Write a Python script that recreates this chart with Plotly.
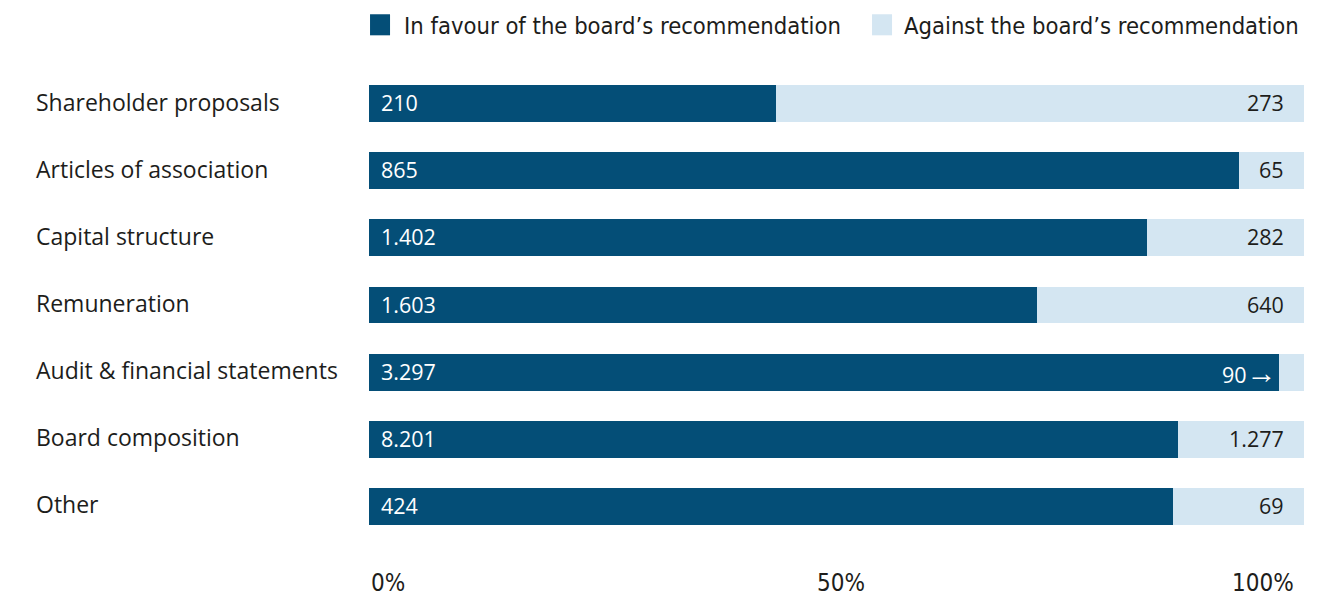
import plotly.graph_objects as go

# Votes on proposals, grouped by topic
categories = [
    "Shareholder proposals",
    "Articles of association",
    "Capital structure",
    "Remuneration",
    "Audit & financial statements",
    "Board composition",
    "Other",
]
in_favour = [210, 865, 1402, 1603, 3297, 8201, 424]
against = [273, 65, 282, 640, 90, 1277, 69]

series_names = ["In favour of the board\u2019s recommendation",
                "Against the board\u2019s recommendation"]
axis_ticks = [0, 0.5, 1]
axis_tick_labels = ["0%", "50%", "100%"]

DARK = "#044e77"
LIGHT = "#d4e6f2"
INK = "#1d1d1b"
NARROW = "Liberation Sans Narrow, DejaVu Sans Condensed, sans-serif"
REGULAR = "Open Sans, Noto Sans, sans-serif"


def fmt(n):
    # thousands separated with a dot
    return f"{n:,}".replace(",", ".")


totals = [f + a for f, a in zip(in_favour, against)]
share_for = [f / t for f, t in zip(in_favour, totals)]
share_against = [a / t for a, t in zip(against, totals)]

fig = go.Figure()
fig.add_trace(go.Bar(
    y=categories, x=share_for, orientation="h",
    marker=dict(color=DARK, line=dict(width=0)),
    name=series_names[0], showlegend=False, hoverinfo="skip",
))
fig.add_trace(go.Bar(
    y=categories, x=share_against, orientation="h",
    marker=dict(color=LIGHT, line=dict(width=0)),
    name=series_names[1], showlegend=False, hoverinfo="skip",
))

annotations = []
narrow_limit = 0.05
for cat, f, a, sf, sa in zip(categories, in_favour, against, share_for, share_against):
    # category name, left aligned near the page edge
    annotations.append(dict(
        x=0, xref="paper", xshift=-335, y=cat, yref="y", yshift=2,
        text=cat, showarrow=False, xanchor="left", yanchor="middle",
        font=dict(family=REGULAR, size=23, color=INK),
    ))
    # in-favour count at the start of the dark bar
    annotations.append(dict(
        x=0, y=cat, xref="x", yref="y", xshift=10, yshift=1,
        text=fmt(f), showarrow=False, xanchor="left", yanchor="middle",
        font=dict(family=REGULAR, size=21.5, color="white"),
    ))
    if sa < narrow_limit:
        # segment too thin for its label: place it on the dark bar with an arrow
        annotations.append(dict(
            x=sf, y=cat, xref="x", yref="y", xshift=0, yshift=1,
            text=fmt(a) + "<span style='font-size:30px'>\u2192</span>",
            showarrow=False, xanchor="right", yanchor="middle",
            font=dict(family=REGULAR, size=21.5, color="white"),
        ))
    else:
        annotations.append(dict(
            x=1, y=cat, xref="x", yref="y", xshift=-18, yshift=1,
            text=fmt(a), showarrow=False, xanchor="right", yanchor="middle",
            font=dict(family=REGULAR, size=21.5, color=INK),
        ))

# x axis tick labels: first left-aligned, middle centred, last right-aligned
anchors = ["left", "center", "right"]
shifts = [0, 4, -8]
for v, lab, anc, sh in zip(axis_ticks, axis_tick_labels, anchors, shifts):
    annotations.append(dict(
        x=v, xref="x", y=0, yref="paper", yshift=-43, xshift=sh,
        text=lab, showarrow=False, xanchor=anc, yanchor="middle",
        font=dict(family=NARROW, size=24, color=INK),
    ))

# legend drawn as swatches with captions above the plot
shapes = []
legend_items = [(series_names[0], DARK, 0.0011, 0.0225, 12),
                (series_names[1], LIGHT, 0.5380, 0.5594, 10)]
for name, col, x0, x1, gap in legend_items:
    shapes.append(dict(
        type="rect", xref="paper", yref="paper", x0=x0, x1=x1,
        y0=1.0738, y1=1.1186, fillcolor=col, line=dict(width=0),
    ))
    annotations.append(dict(
        x=x1, xref="paper", xshift=gap, y=1.0940, yref="paper",
        text=name, showarrow=False, xanchor="left", yanchor="middle",
        font=dict(family=NARROW, size=23.6, color=INK),
    ))

fig.update_layout(
    barmode="stack",
    bargap=0.45,
    width=1335, height=597,
    margin=dict(l=369, r=31, t=70, b=57, pad=0),
    paper_bgcolor="white", plot_bgcolor="white",
    xaxis=dict(range=[0, 1], showgrid=False, zeroline=False, showticklabels=False,
               showline=False, fixedrange=True),
    yaxis=dict(categoryorder="array", categoryarray=categories[::-1],
               range=[-0.5, len(categories) - 0.5],
               showgrid=False, zeroline=False, showticklabels=False, showline=False,
               fixedrange=True),
    annotations=annotations,
    shapes=shapes,
    showlegend=False,
)

fig.write_html("out.html", config={"displayModeBar": False})
